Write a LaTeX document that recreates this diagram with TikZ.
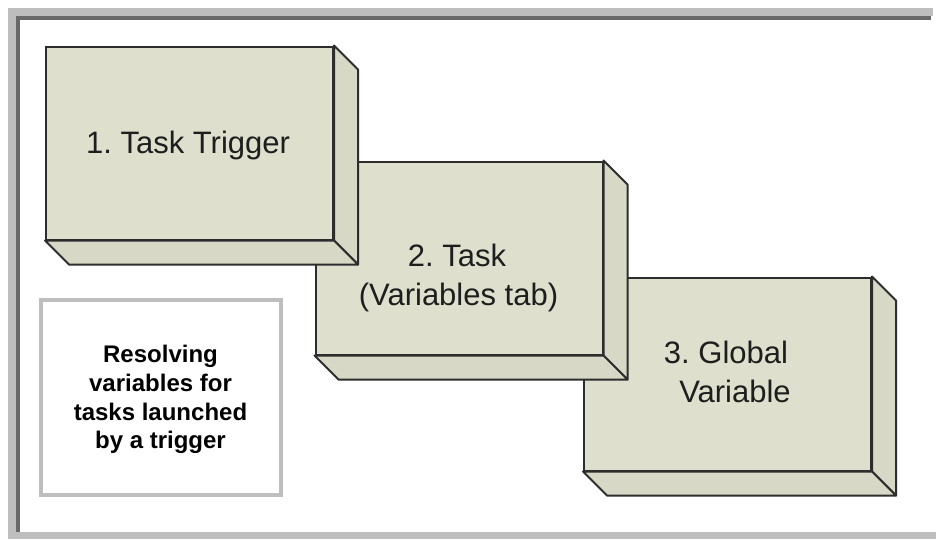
\documentclass[tikz,border=0pt]{standalone}
\usepackage{fontspec}
\setmainfont{Liberation Sans}
\frenchspacing
\definecolor{faceclr}{RGB}{222,224,205}
\definecolor{sideclr}{RGB}{215,217,198}
\definecolor{edgeclr}{RGB}{45,45,45}
\definecolor{framelight}{RGB}{190,190,190}
\definecolor{framedark}{RGB}{105,105,105}
\definecolor{txtclr}{RGB}{30,30,30}
\tikzset{
  frontface/.style={draw=edgeclr, fill=faceclr, line width=2pt, inner sep=0pt,
    minimum width=287pt, minimum height=193pt},
  sideface/.style={draw=edgeclr, fill=sideclr, line width=2pt, line join=round},
  boxtext/.style={text=txtclr, font=\frenchspacing\fontsize{31}{37}\selectfont, inner sep=0pt, anchor=base},
  labelbox/.style={draw=framelight, fill=white, line width=4pt, inner sep=0pt,
    minimum width=240pt, minimum height=195pt},
  labeltext/.style={text=black, font=\bfseries\fontsize{24}{28}\selectfont, inner sep=0pt, anchor=base},
}
\newcommand\cuboidsides[1]{%
  \filldraw[sideface] (#1.north east) -- ++(24,24) -- ([shift={(24,24)}]#1.south east) -- (#1.south east) -- cycle;
  \filldraw[sideface] (#1.south west) -- (#1.south east) -- ([shift={(24,24)}]#1.south east) -- ([shift={(24,24)}]#1.south west) -- cycle;
}
\begin{document}
\begin{tikzpicture}[x=1pt,y=-1pt]
\useasboundingbox (0,0) rectangle (936,539);
\fill[white] (0,0) rectangle (936,539);
% outer frame
\fill[framelight] (8,8) rectangle (933,16);
\fill[framelight] (8,8) rectangle (16,539);
\fill[framelight] (8,532) rectangle (936,539);
\fill[framedark] (16,16) rectangle (931,20);
\fill[framedark] (16,16) rectangle (20,532);
% box 3
\node[frontface] (b3) at (727.5,374) {};
\cuboidsides{b3}
% box 2
\node[frontface] (b2) at (459,258) {};
\cuboidsides{b2}
% box 1
\node[frontface] (b1) at (189.5,143) {};
\cuboidsides{b1}
% texts
\node[boxtext] (t1) at (188,153) {1. Task Trigger};
\node[boxtext] (t2a) at (457,266) {2. Task};
\node[boxtext] (t2b) at (458.5,305) {(Variables tab)};
\node[boxtext] (t3a) at (726,363) {3. Global};
\node[boxtext] (t3b) at (735,402) {Variable};
% label box
\node[labelbox] (lbl) at (160.5,397.5) {};
\node[labeltext] (l1) at (160.5,362) {Resolving};
\node[labeltext] (l2) at (160.5,391) {variables for};
\node[labeltext] (l3) at (160.5,420) {tasks launched};
\node[labeltext] (l4) at (160.5,448) {by a trigger};
\end{tikzpicture}
\end{document}
